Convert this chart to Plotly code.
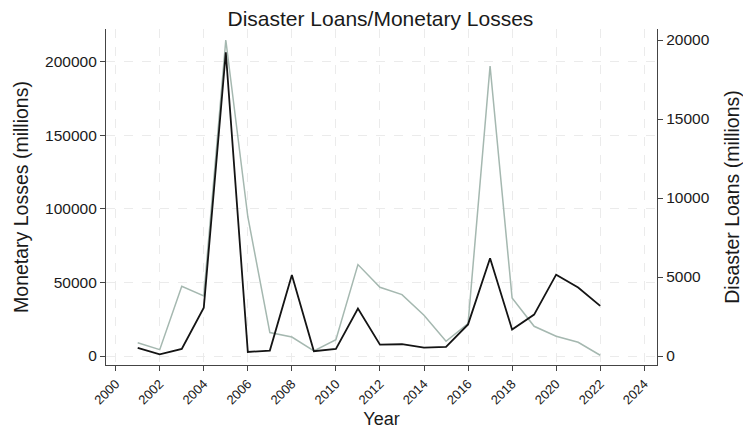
import plotly.graph_objects as go

years = list(range(2001, 2023))
monetary_losses = [9000, 4300, 47400, 40800, 214700, 94600, 15900, 12900, 3400, 11100,
                   62100, 46700, 41700, 27700, 10000, 22000, 197000, 39500, 20200, 13400,
                   9300, 500]
disaster_loans = [510, 100, 450, 3060, 19230, 255, 340, 5130, 300, 450,
                  3000, 720, 745, 530, 575, 2000, 6190, 1680, 2620, 5150,
                  4340, 3170]
x_ticks = list(range(2000, 2025, 2))
left_ticks = [0, 50000, 100000, 150000, 200000]
right_ticks = [0, 5000, 10000, 15000, 20000]

FONT = "Liberation Sans, Arial, sans-serif"

fig = go.Figure()
fig.add_trace(go.Scatter(x=years, y=monetary_losses, mode="lines",
                         line=dict(color="#a5b8b0", width=1.5),
                         name="Monetary Losses", yaxis="y"))
fig.add_trace(go.Scatter(x=years, y=disaster_loans, mode="lines",
                         line=dict(color="#141414", width=1.8),
                         name="Disaster Loans", yaxis="y2"))

fig.update_layout(
    width=743, height=431,
    margin=dict(l=106, r=86, t=29, b=66),
    paper_bgcolor="white", plot_bgcolor="white",
    showlegend=False,
    font=dict(family=FONT, color="#1a1a1a"),
    title=dict(text="Disaster Loans/Monetary Losses", x=0.512, xanchor="center",
               y=0.957, yanchor="middle", font=dict(size=21, family=FONT, color="#1a1a1a")),
    xaxis=dict(range=[1999.56, 2024.58], tickvals=x_ticks, ticktext=[str(t) for t in x_ticks],
               tickangle=-45, tickfont=dict(size=13, family=FONT),
               showline=True, linecolor="#444", linewidth=1.2,
               ticks="outside", ticklen=5, tickcolor="#444",
               showgrid=True, gridcolor="#ebebeb", griddash="dash", gridwidth=1,
               zeroline=False, automargin=False,
               title=dict(text="Year", font=dict(size=18, family=FONT), standoff=6)),
    yaxis=dict(range=[-6110, 222150], tickvals=left_ticks, ticktext=[str(t) for t in left_ticks],
               tickfont=dict(size=15.5, family=FONT),
               showline=True, linecolor="#444", linewidth=1.2,
               ticks="outside", ticklen=5, tickcolor="#444",
               showgrid=True, gridcolor="#ebebeb", griddash="dash", gridwidth=1,
               zeroline=False, automargin=False,
               title=dict(text="Monetary Losses (millions)", font=dict(size=19.5, family=FONT), standoff=11)),
    yaxis2=dict(range=[-570, 20700], tickvals=right_ticks, ticktext=[str(t) for t in right_ticks],
                overlaying="y", side="right",
                tickfont=dict(size=15.5, family=FONT),
                showline=True, linecolor="#444", linewidth=1.2,
                ticks="outside", ticklen=5, tickcolor="#444",
                showgrid=False, zeroline=False, automargin=False,
                title=dict(text="Disaster Loans (millions)", font=dict(size=19.5, family=FONT), standoff=16)),
)

fig.write_html("out.html")
